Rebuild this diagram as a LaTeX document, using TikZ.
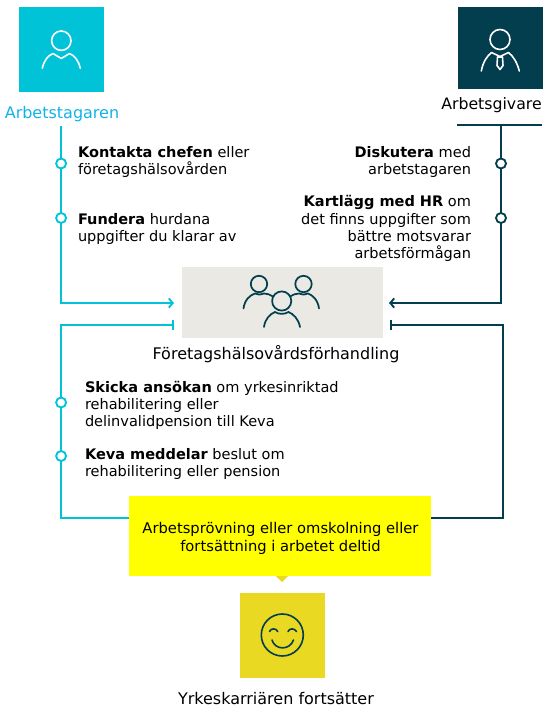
\documentclass[tikz,border=0pt]{standalone}
\usepackage{fontspec}
\setmainfont{DejaVu Sans}
\usetikzlibrary{arrows.meta}
\definecolor{cy}{HTML}{00C3D8}
\definecolor{dk}{HTML}{033E4F}
\definecolor{lb}{HTML}{12B2E8}
\definecolor{gy}{HTML}{EAE9E3}
\definecolor{ye}{HTML}{FFFF00}
\definecolor{mu}{HTML}{E9D923}
\tikzset{
 every node/.style={inner sep=0pt,outer sep=0pt},
 sq/.style={minimum width=63.75pt,minimum height=63.75pt},
 txt/.style={font=\fontsize{10.9}{13}\selectfont,text=black,align=left,anchor=north west},
 txr/.style={font=\fontsize{10.9}{13}\selectfont,text=black,align=right,anchor=north east},
 lab/.style={font=\fontsize{12}{14}\selectfont,text=black},
 cline/.style={draw=cy,line width=1.4pt},
 dline/.style={draw=dk,line width=1.4pt},
 dotc/.style={circle,draw=cy,fill=white,line width=1.4pt,minimum size=7.5pt},
 dotd/.style={circle,draw=dk,fill=white,line width=1.4pt,minimum size=7.5pt},
 icw/.style={draw=white,line width=1.2pt,line cap=round,line join=round},
 icd/.style={draw=dk,line width=1.3pt,line cap=round,line join=round},
}
\begin{document}
\begin{tikzpicture}[x=0.75pt,y=-0.75pt]
\useasboundingbox (0,0) rectangle (554,717);
% squares
\node[sq,fill=cy,anchor=north west] (emp) at (19,7) {};
\node[sq,fill=dk,anchor=north west,minimum height=61.5pt] (boss) at (458,7) {};
\node[fill=gy,minimum width=150.75pt,minimum height=53.25pt,anchor=north west] (meet) at (182,267) {};
\node[fill=ye,minimum width=226.5pt,minimum height=60pt,anchor=north west] (work) at (129,496) {};
\node[font=\fontsize{11.05}{13.5}\selectfont,align=center,text=black] (worktext) at (280.5,538) {Arbetsprövning eller omskolning eller\\fortsättning i arbetet deltid};
\node[sq,fill=mu,anchor=north west] (cont) at (240,593) {};
\fill[mu] (276,576) -- (288,576) -- (282,582) -- cycle;
% labels
\node[lab,text=lb,anchor=center] (l1) at (62,114) {Arbetstagaren};
\node[lab,anchor=center,font=\fontsize{11.8}{14}\selectfont] (l2) at (491.5,105) {Arbetsgivare};
\node[lab,anchor=center] (l3) at (276,354) {Företagshälsovårdsförhandling};
\node[lab,anchor=center] (l4) at (276,699) {Yrkeskarriären fortsätter};
% coordinates
\coordinate (ltop) at (61.1,126);
\coordinate (rtopL) at (457,125);
\coordinate (rtopR) at (542,125);
\coordinate (rtop) at (501,125);
\coordinate (lc) at (61.1,303);
\coordinate (la) at (174,303);
\coordinate (rc) at (501,303);
\coordinate (ra) at (389,303);
\coordinate (lb1) at (174,325);
\coordinate (lc2) at (61.1,325);
\coordinate (lc3) at (61.1,518);
\coordinate (rb1) at (390,325);
\coordinate (rc2) at (503,325);
\coordinate (rc3) at (503,518);
% connectors
\draw[cline,-{Straight Barb[length=3pt,width=7pt]}] (ltop) -- (lc) -- (la);
\draw[dline] (rtopL) -- (rtopR);
\draw[dline,-{Straight Barb[length=3pt,width=7pt]}] (rtop) -- (rc) -- (ra);
\draw[cline,-{Bar[width=7pt]}] (work.west |- lc3) -- (lc3) -- (lc2) -- (lb1);
\draw[dline,-{Bar[width=7pt]}] (work.east |- rc3) -- (rc3) -- (rc2) -- (rb1);
% dots
\node[dotc] (c1) at (61.1,163.5) {};
\node[dotc] (c2) at (61.1,218) {};
\node[dotc] (c3) at (61.1,402.5) {};
\node[dotc] (c4) at (61.1,456) {};
\node[dotd] (d1) at (501,163.5) {};
\node[dotd] (d2) at (501,218) {};
% text
\node[txt] (t1) at (78,146.5) {\textbf{Kontakta chefen} eller\\företagshälsovården};
\node[txt] (t2) at (78,213) {\textbf{Fundera} hurdana\\uppgifter du klarar av};
\node[txr] (t3) at (471,146.5) {\textbf{Diskutera} med\\arbetstagaren};
\node[txr] (t4) at (471,195.5) {\textbf{Kartlägg med HR} om\\det finns uppgifter som\\bättre motsvarar\\arbetsförmågan};
\node[txt] (t5) at (85,381) {\textbf{Skicka ansökan} om yrkesinriktad\\rehabilitering eller\\delinvalidpension till Keva};
\node[txt] (t6) at (85,448.5) {\textbf{Keva meddelar} beslut om\\rehabilitering eller pension};
% employee icon
\draw[icw] (61.3,40.7) circle (9.7);
\draw[icw] (42.3,68.3) .. controls (44,60.5) and (48,55.5) .. (53,53.5) -- (61.3,58.5) -- (69.5,53.5) .. controls (74.5,55.5) and (78.5,60.5) .. (80.3,68.3);
% employer icon
\draw[icw] (500,39.5) circle (10);
\draw[icw] (481.3,71) .. controls (483,62) and (487,56) .. (491.5,52.5) -- (500,56.5) -- (508.5,52.5) .. controls (513,56) and (517,62) .. (519.3,71);
\draw[icw] (497.5,57) -- (502.5,57) -- (503,65.5) -- (500,69.5) -- (497,65.5) -- cycle;
% group icon
\draw[icd] (259,284) circle (8.2);
\draw[icd] (303.5,284) circle (8.2);
\draw[icd] (281.7,301) circle (9.6);
\draw[icd] (243.5,308.5) .. controls (244.5,300) and (250,295) .. (255,293.5) .. controls (258,295) and (261,295) .. (264,293.5) .. controls (267,293.5) and (270,294.5) .. (273,296.5);
\draw[icd] (319,308.5) .. controls (318,300) and (312.5,295) .. (308,293.5) .. controls (305,295) and (302,295) .. (299,293.5) .. controls (296,293.5) and (293,294.5) .. (290,296.5);
\draw[icd] (264,327) .. controls (265,319) and (270,314) .. (275,312) .. controls (279,314.5) and (284.5,314.5) .. (288.5,312) .. controls (293.5,314) and (298.5,319) .. (300,327);
% smiley
\draw[draw=dk,line width=1.2pt] (282.3,635) circle (21);
\draw[draw=dk,line width=1.2pt,line cap=round] (269.5,631.5) .. controls (271,628) and (276,628) .. (277.8,631.5);
\draw[draw=dk,line width=1.2pt,line cap=round] (288,631.5) .. controls (289.5,628) and (294.5,628) .. (296.5,631.5);
\draw[draw=dk,line width=1.2pt,line cap=round] (272,640) .. controls (275,650.5) and (290,650.5) .. (293.5,640);
\end{tikzpicture}
\end{document}
